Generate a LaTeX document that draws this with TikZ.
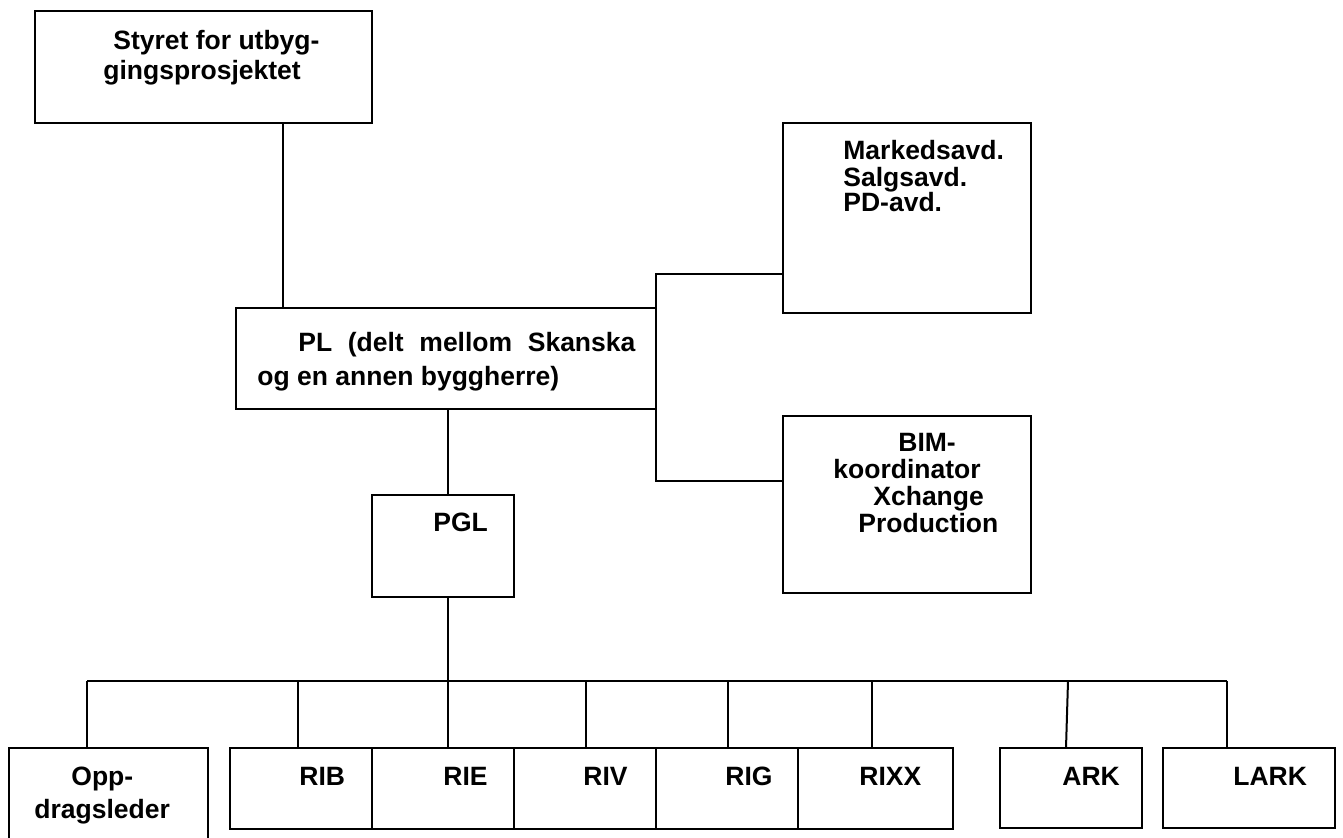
\documentclass[tikz,border=0pt]{standalone}
\usepackage{fontspec}
\setmainfont{Liberation Sans}
\usetikzlibrary{fit}
\begin{document}
\begin{tikzpicture}[x=0.5pt,y=-0.5pt,
  box/.style={draw=black,line width=1pt,inner sep=0pt,fill=none},
  lbl/.style={anchor=base west,inner sep=0pt,font=\fontsize{13.25pt}{16pt}\selectfont\bfseries},
  conn/.style={draw=black,line width=1pt}]
\useasboundingbox (0,0) rectangle (1343,838);
\clip (0,0) rectangle (1343,838);
% boxes
\node[box,fit={(35,11) (372,123)}] (styret) {};
\node[box,fit={(236,308) (656,409)}] (pl) {};
\node[box,fit={(783,123) (1031,313)}] (mark) {};
\node[box,fit={(783,416) (1031,593)}] (bim) {};
\node[box,fit={(372,495) (514,597)}] (pgl) {};
\node[box,fit={(9,748) (208,850)}] (opp) {};
\node[box,fit={(230,748) (372,829)}] (rib) {};
\node[box,fit={(372,748) (514,829)}] (rie) {};
\node[box,fit={(514,748) (656,829)}] (riv) {};
\node[box,fit={(656,748) (798,829)}] (rig) {};
\node[box,fit={(798,748) (953,829)}] (rixx) {};
\node[box,fit={(1000,748) (1142,828)}] (ark) {};
\node[box,fit={(1163,748) (1335,828)}] (lark) {};
% texts
\node[lbl] (t1a) at (113,50) {Styret for utbyg-};
\node[lbl] (t1b) at (103,80) {gingsprosjektet};
\node[lbl] (t2a) at (298,352) {\makebox[168.5pt][s]{PL (delt mellom Skanska}};
\node[lbl] (t2b) at (257,386) {og en annen byggherre)};
\node[lbl] (t3a) at (843,160) {Markedsavd.};
\node[lbl] (t3b) at (843,186.5) {Salgsavd.};
\node[lbl] (t3c) at (843,212) {PD-avd.};
\node[lbl] (t4a) at (898,452) {BIM-};
\node[lbl] (t4b) at (833,479) {koordinator};
\node[lbl] (t4c) at (873,506) {Xchange};
\node[lbl] (t4d) at (858,533) {Production};
\node[lbl] (t5) at (433,532) {PGL};
\node[lbl] (t6a) at (71,785) {Opp-};
\node[lbl] (t6b) at (34,818) {dragsleder};
\node[lbl] (t7) at (299,785) {RIB};
\node[lbl] (t8) at (443,785) {RIE};
\node[lbl] (t9) at (583,785) {RIV};
\node[lbl] (t10) at (725,785) {RIG};
\node[lbl] (t11) at (859,785) {RIXX};
\node[lbl] (t12) at (1062,785) {ARK};
\node[lbl] (t13) at (1233,785) {LARK};
% connector points
\coordinate (c1) at (283,0);
\coordinate (c2) at (448,0);
\coordinate (rtop) at (656,274);
\coordinate (rbot) at (656,481);
\coordinate (busL) at (87,681);
\coordinate (busR) at (1227,681);
\coordinate (bRIB) at (298,681);
\coordinate (bRIE) at (448,681);
\coordinate (bRIV) at (586,681);
\coordinate (bRIG) at (728,681);
\coordinate (bRIXX) at (872,681);
\coordinate (bARK) at (1068,681);
\coordinate (eARK) at (1066,748);
% connectors
\draw[conn] (styret.south -| c1) -- (pl.north -| c1);
\draw[conn] (pl.south -| c2) -- (pgl.north -| c2);
\draw[conn] (mark.west |- rtop) -- (rtop) -- (rbot) -- (bim.west |- rbot);
\draw[conn] (pgl.south -| c2) -- (bRIE);
\draw[conn] (busL) -- (busR);
\draw[conn] (busL) -- (busL |- opp.north);
\draw[conn] (bRIB) -- (bRIB |- rib.north);
\draw[conn] (bRIE) -- (bRIE |- rie.north);
\draw[conn] (bRIV) -- (bRIV |- riv.north);
\draw[conn] (bRIG) -- (bRIG |- rig.north);
\draw[conn] (bRIXX) -- (bRIXX |- rixx.north);
\draw[conn] (bARK) -- (eARK);
\draw[conn] (busR) -- (busR |- lark.north);
\end{tikzpicture}
\end{document}
